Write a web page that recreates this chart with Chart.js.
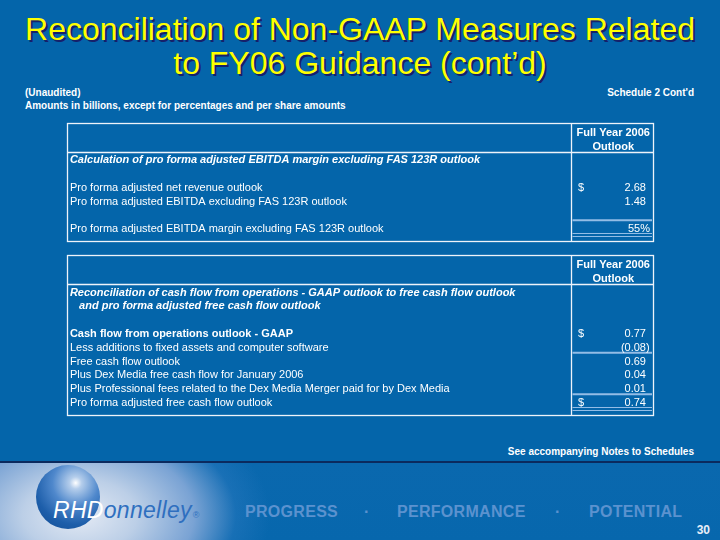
<!DOCTYPE html>
<html>
<head>
<meta charset="utf-8">
<script src="https://cdn.jsdelivr.net/npm/chart.js@4"></script>
<style>
  html,body{margin:0;padding:0;}
  body{width:720px;height:540px;position:relative;overflow:hidden;background:#0465aa;font-family:"Liberation Sans",Arial,sans-serif;}
  .abs{position:absolute;}
  #title{left:0;width:720px;top:12px;text-align:center;color:#ffff00;font-size:32px;line-height:34px;text-shadow:2px 2px 0 #16206a;}
  .small{color:#ffffff;font-size:10px;font-weight:bold;line-height:13px;white-space:nowrap;}
  canvas{position:absolute;left:0;top:0;}
  #band{left:0;top:463px;width:720px;height:77px;
    background:radial-gradient(ellipse 190px 120px at 80px 52px, #e4eaf4 0%, #bccfe7 30%, #7aa3d4 60%, rgba(40,120,190,0.5) 82%, rgba(10,104,174,0) 100%), linear-gradient(#0a68ae,#0767ad);}
  #navyline{left:0;top:461px;width:720px;height:2px;background:#0b2a5e;}
  #sphere{left:36px;top:465px;width:64px;height:64px;border-radius:50%;
    background:radial-gradient(circle at 62% 28%, #ffffff 0%, #b4cdeb 10%, #4f88cc 38%, #1d5eaa 68%, #11498f 100%);}
  #logo{left:53px;top:497px;font-size:23px;font-style:italic;color:#2f6fbf;letter-spacing:0.3px;white-space:nowrap;}
  #logo .w{color:#ffffff;}
  #logo sup{font-size:9px;font-style:normal;color:#2f6fbf;vertical-align:baseline;margin-left:1px;}
  .tag{top:503px;font-size:16px;font-weight:bold;color:#5b92cf;white-space:nowrap;letter-spacing:0.3px;}
  #page{right:10px;top:523px;font-size:12px;font-weight:bold;color:#e8eef8;}
</style>
</head>
<body>
<div id="title" class="abs">Reconciliation of Non-GAAP Measures Related<br>to FY06 Guidance (cont’d)</div>
<div class="abs small" style="left:25px;top:86px;">(Unaudited)</div>
<div class="abs small" style="left:25px;top:99px;">Amounts in billions, except for percentages and per share amounts</div>
<div class="abs small" style="right:26px;top:86px;">Schedule 2 Cont'd</div>
<div class="abs small" style="right:26px;top:445px;">See accompanying Notes to Schedules</div>
<div id="navyline" class="abs"></div>
<div id="band" class="abs"></div>
<div id="sphere" class="abs"></div>
<div id="logo" class="abs"><span class="w">RHD</span>onnelley<sup>®</sup></div>
<div class="abs tag" style="left:245px;">PROGRESS</div>
<div class="abs tag" style="left:364px;">·</div>
<div class="abs tag" style="left:397px;">PERFORMANCE</div>
<div class="abs tag" style="left:555px;">·</div>
<div class="abs tag" style="left:589px;">POTENTIAL</div>
<div id="page" class="abs">30</div>
<canvas id="c1" width="720" height="540"></canvas>
<canvas id="c2" width="720" height="540"></canvas>
<script>
// ---------- DATA ----------
const headerLines = ["Full Year 2006", "Outlook"];

const t1Labels = [
  "Calculation of pro forma adjusted EBITDA margin excluding FAS 123R outlook",
  "",
  "Pro forma adjusted net revenue outlook",
  "Pro forma adjusted EBITDA excluding FAS 123R outlook",
  "",
  "Pro forma adjusted EBITDA margin excluding FAS 123R outlook"
];
const t1Values = [null, null, 2.68, 1.48, null, 55];
const t1Units  = ["", "", "$", "", "", "%"];

const t2Labels = [
  "Reconciliation of cash flow from operations - GAAP outlook to free cash flow outlook",
  "   and pro forma adjusted free cash flow outlook",
  "",
  "Cash flow from operations outlook - GAAP",
  "Less additions to fixed assets and computer software",
  "Free cash flow outlook",
  "Plus Dex Media free cash flow for January 2006",
  "Plus Professional fees related to the Dex Media Merger paid for by Dex Media",
  "Pro forma adjusted free cash flow outlook"
];
const t2Values = [null, null, null, 0.77, -0.08, 0.69, 0.04, 0.01, 0.74];
const t2Units  = ["", "", "", "$", "", "", "", "", "$"];

// ---------- STYLE / LAYOUT ----------
const t1Style = { rowStyle: ["bi", "", "", "", "", ""], ruleAbove: [5], doubleBelow: [5], top: 123, bottom: 241 };
const t2Style = { rowStyle: ["bi", "bi", "", "b", "", "", "", "", ""], ruleAbove: [5, 8], doubleBelow: [8], top: 255, bottom: 415 };
const BOX_LEFT = 67, BOX_RIGHT = 653;
const COL_DIV = 0.86, DOLLAR_X = 0.872, NUM_RIGHT = 0.988, LABEL_X = 0.005;
const TEXT = "#ffffff", LINE = "#eef3fa", RULE = "#93bde6";
const FONT = '"Liberation Sans", Arial, sans-serif';
const TEXT_DY = 1, PCT_SHIFT = 4;

function fmt(v, unit) {
  if (unit === "%") return { body: v + "%", tail: "", shift: PCT_SHIFT };
  const s = Math.abs(v).toFixed(2);
  return v < 0 ? { body: "(" + s, tail: ")", shift: 0 } : { body: s, tail: "", shift: 0 };
}

const tablePlugin = {
  id: "tablePlugin",
  afterDraw(chart, args, opts) {
    const ctx = chart.ctx, a = chart.chartArea;
    const xs = chart.scales.x, ys = chart.scales.y;
    const st = opts.style, labels = opts.labels, units = opts.units;
    ctx.save();
    // box
    ctx.strokeStyle = LINE; ctx.lineWidth = 1.3;
    ctx.strokeRect(Math.round(a.left) + 0.5, Math.round(a.top) + 0.5, Math.round(a.right - a.left), Math.round(a.bottom - a.top));
    const xd = Math.round(xs.getPixelForValue(COL_DIV)) + 0.5;
    const ysep = Math.round(ys.getPixelForValue(-0.55)) + 0.5;
    ctx.beginPath();
    ctx.moveTo(a.left, ysep); ctx.lineTo(a.right, ysep);
    ctx.moveTo(xd, a.top); ctx.lineTo(xd, a.bottom);
    ctx.stroke();
    // value-column rules
    ctx.strokeStyle = RULE;
    st.ruleAbove.forEach(r => {
      const y = ys.getPixelForValue(r - 0.56);
      ctx.lineWidth = 2;
      ctx.beginPath(); ctx.moveTo(xd + 1, y); ctx.lineTo(a.right - 1, y); ctx.stroke();
    });
    st.doubleBelow.forEach(r => {
      ctx.lineWidth = 1.2;
      [0.38, 0.6].forEach(o => {
        const y = Math.round(ys.getPixelForValue(r + o)) + 0.5;
        ctx.beginPath(); ctx.moveTo(xd + 1, y); ctx.lineTo(a.right - 1, y); ctx.stroke();
      });
    });
    // header
    ctx.fillStyle = TEXT; ctx.textBaseline = "middle";
    ctx.font = "bold 11px " + FONT; ctx.textAlign = "center";
    const xc = (xd + a.right) / 2 + 1;
    headerLines.forEach((h, i) => ctx.fillText(h, xc, ys.getPixelForValue(i - headerLines.length) + TEXT_DY));
    // labels
    ctx.textAlign = "left";
    labels.forEach((t, i) => {
      if (!t) return;
      const s = st.rowStyle[i];
      ctx.font = (s === "bi" ? "italic bold " : s === "b" ? "bold " : "") + "11px " + FONT;
      ctx.fillText(t, xs.getPixelForValue(LABEL_X), ys.getPixelForValue(i) + TEXT_DY);
    });
    // values from dataset points
    ctx.font = "11px " + FONT;
    const meta = chart.getDatasetMeta(0);
    chart.data.datasets[0].data.forEach((p, j) => {
      const el = meta.data[j];
      const y = el.y + TEXT_DY;
      const f = fmt(p.v, units[p.y]);
      ctx.textAlign = "right"; ctx.fillText(f.body, el.x + f.shift, y);
      if (f.tail) { ctx.textAlign = "left"; ctx.fillText(f.tail, el.x, y); }
      if (units[p.y] === "$") { ctx.textAlign = "left"; ctx.fillText("$", xs.getPixelForValue(DOLLAR_X), y); }
    });
    ctx.restore();
  }
};

function makeTable(id, labels, values, units, style) {
  const pts = [];
  values.forEach((v, i) => { if (v !== null) pts.push({ x: NUM_RIGHT, y: i, v: v }); });
  const n = labels.length;
  new Chart(document.getElementById(id), {
    type: "scatter",
    data: { datasets: [{ data: pts, pointRadius: 0, pointHoverRadius: 0 }] },
    options: {
      responsive: false, animation: false, devicePixelRatio: 1,
      events: [],
      layout: { padding: { left: BOX_LEFT, right: 720 - BOX_RIGHT, top: style.top, bottom: 540 - style.bottom } },
      scales: {
        x: { type: "linear", min: 0, max: 1, display: false },
        y: { type: "linear", min: -headerLines.length - 0.65, max: n - 1 + 0.95, reverse: true, display: false }
      },
      plugins: { legend: { display: false }, tooltip: { enabled: false },
        tablePlugin: { style: style, labels: labels, units: units } }
    },
    plugins: [tablePlugin]
  });
}
makeTable("c1", t1Labels, t1Values, t1Units, t1Style);
makeTable("c2", t2Labels, t2Values, t2Units, t2Style);
</script>
</body>
</html>
